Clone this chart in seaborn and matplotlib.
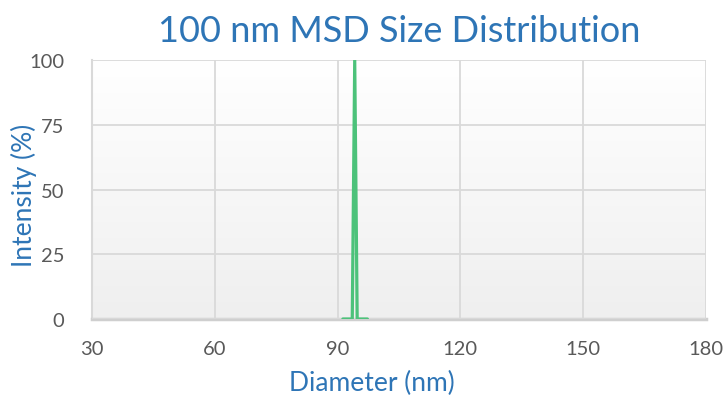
import numpy as np
import pandas as pd
import matplotlib
matplotlib.use("Agg")
import matplotlib.pyplot as plt
import seaborn as sns

# data
diameter = [91.3, 93.6, 94.2, 94.8, 97.3]
intensity = [0, 0, 100, 0, 0]
x_ticks = [30, 60, 90, 120, 150, 180]
y_ticks = [0, 25, 50, 75, 100]

df = pd.DataFrame({"Diameter": diameter, "Intensity": intensity})

sns.set_theme(style="white")
plt.rcParams['font.family'] = ['Lato', 'DejaVu Sans']

blue = "#2e75b6"
grid_c = "#d9d9d9"

fig = plt.figure(figsize=(7.24, 4.02), dpi=100)
ax = fig.add_axes([0.127, 0.204, 0.848, 0.644])

# gradient background, white at top to light gray at bottom
grad = np.linspace(1.0, 0.0, 256).reshape(-1, 1)
ax.imshow(grad, extent=[30, 180, 0, 100], aspect="auto",
          cmap=matplotlib.colors.LinearSegmentedColormap.from_list("bg", ["#efefef", "#ffffff"]),
          zorder=0, origin="upper")

sns.lineplot(data=df, x="Diameter", y="Intensity", color="#4cc27a", linewidth=2.3, ax=ax, zorder=3)

ax.set_xlim(30, 180)
ax.set_ylim(0, 100)
ax.set_xticks(x_ticks)
ax.set_yticks(y_ticks)
ax.grid(True, color=grid_c, linewidth=1.3, zorder=1)
ax.set_axisbelow(False)
for s in ["top", "right"]:
    ax.spines[s].set_visible(False)
ax.spines["left"].set_color(grid_c)
ax.spines["left"].set_linewidth(1.5)
ax.spines["bottom"].set_color("#cfcfcf")
ax.spines["bottom"].set_linewidth(2.5)

ax.tick_params(axis="both", labelsize=14.5, colors="#595959", length=0)
ax.tick_params(axis="x", pad=15)
ax.tick_params(axis="y", pad=20)

ax.set_xlabel("Diameter (nm)", fontsize=19, color=blue)
ax.xaxis.set_label_coords(0.456, -0.195)
ax.set_ylabel("Intensity (%)", fontsize=19, color=blue)
ax.yaxis.set_label_coords(-0.09, 0.48)
ax.set_title("100 nm MSD Size Distribution", fontsize=26, color=blue, pad=14)

plt.savefig("out.png", dpi=100)
plt.close()
